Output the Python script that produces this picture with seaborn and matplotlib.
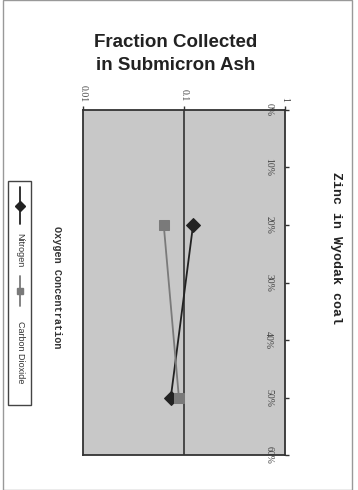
import matplotlib
matplotlib.use("Agg")
import matplotlib.pyplot as plt
from matplotlib.lines import Line2D
from matplotlib.patches import Rectangle
import seaborn as sns
import pandas as pd

sns.set_theme(style="white")
plt.rcParams['font.family'] = ['Liberation Sans', 'DejaVu Sans']

# Data
oxygen = [20, 50]
nitrogen = [0.123, 0.074]
carbon_dioxide = [0.063, 0.089]
series_names = ["Nitrogen", "Carbon Dioxide"]
oxygen_ticks = [0, 10, 20, 30, 40, 50, 60]
oxygen_labels = ["0%", "10%", "20%", "30%", "40%", "50%", "60%"]
frac_ticks = [0.01, 0.1, 1]
frac_labels = ["0.01", "0.1", "1"]

df = pd.DataFrame({
    "oxygen": oxygen * 2,
    "fraction": nitrogen + carbon_dioxide,
    "series": [series_names[0]] * 2 + [series_names[1]] * 2,
})

W, H = 358, 490
fig = plt.figure(figsize=(W / 100, H / 100), dpi=100)
fig.patch.set_facecolor("white")
ax = fig.add_axes([83 / W, (H - 455) / H, 202 / W, 345 / H])
ax.set_facecolor("#c8c8c8")

colors = {"Nitrogen": "#222222", "Carbon Dioxide": "#7a7a7a"}
markers = {"Nitrogen": "D", "Carbon Dioxide": "s"}
for name in series_names:
    sub = df[df["series"] == name]
    sns.lineplot(data=sub, x="fraction", y="oxygen", sort=False, estimator=None,
                 color=colors[name], marker=markers[name], markersize=7,
                 markeredgecolor=colors[name], linewidth=1.3, ax=ax, legend=False)

ax.set_xscale("log")
ax.set_xlim(0.01, 1)
ax.set_ylim(60, 0)
ax.axvline(0.1, color="#333333", linewidth=1.2, zorder=1)

ax.set_xticks(frac_ticks)
ax.set_xticklabels(frac_labels, rotation=270, fontsize=7, family="Liberation Serif", color="#444444")
ax.xaxis.set_minor_locator(matplotlib.ticker.NullLocator())
ax.xaxis.tick_top()
ax.set_yticks(oxygen_ticks)
ax.set_yticklabels(oxygen_labels, rotation=270, fontsize=7, family="Liberation Serif",
                   color="#444444", va="center", ha="left")
ax.yaxis.tick_right()
ax.tick_params(axis="both", length=3, width=1, color="#333333", direction="out")
ax.tick_params(axis="x", pad=3)
ax.tick_params(axis="y", pad=-18)
ax.set_xlabel("")
ax.set_ylabel("")
for s in ax.spines.values():
    s.set_color("#333333")
    s.set_linewidth(1.3)

# Title
fig.text(176 / W, 1 - 54 / H, "Fraction Collected\nin Submicron Ash", ha="center", va="center",
         fontsize=13.5, fontweight="bold", color="#222222", linespacing=1.45)

# Rotated chart title and axis label
fig.text(336 / W, 1 - 248 / H, "Zinc in Wyodak coal", rotation=270, ha="center", va="center",
         fontsize=9.5, fontweight="bold", family="Liberation Mono", color="#222222")
fig.text(57 / W, 1 - 287 / H, "Oxygen Concentration", rotation=270, ha="center", va="center",
         fontsize=7.3, fontweight="bold", family="Liberation Mono", color="#333333")

# Rotated legend
fig.patches.append(Rectangle((8 / W, 1 - 405 / H), 23 / W, 224 / H, transform=fig.transFigure,
                             fill=False, edgecolor="#444444", linewidth=1))
cx = 20 / W
fig.add_artist(Line2D([cx, cx], [1 - 187 / H, 1 - 224 / H], transform=fig.transFigure,
                      color=colors["Nitrogen"], linewidth=1.3))
fig.add_artist(Line2D([cx], [1 - 206 / H], transform=fig.transFigure, marker="D",
                      markersize=5, color=colors["Nitrogen"]))
fig.text(cx, 1 - 250 / H, series_names[0], rotation=270, ha="center", va="center",
         fontsize=6.5, family="Liberation Sans", color="#333333")
fig.add_artist(Line2D([cx, cx], [1 - 276 / H, 1 - 306 / H], transform=fig.transFigure,
                      color=colors["Carbon Dioxide"], linewidth=1.3))
fig.add_artist(Line2D([cx], [1 - 291 / H], transform=fig.transFigure, marker="s",
                      markersize=5, color=colors["Carbon Dioxide"]))
fig.text(cx, 1 - 352 / H, series_names[1], rotation=270, ha="center", va="center",
         fontsize=6.5, family="Liberation Sans", color="#333333")

# Page border
fig.patches.append(Rectangle((3 / W, 0), 349 / W, 1, transform=fig.transFigure,
                             fill=False, edgecolor="#999999", linewidth=1))

fig.savefig("out.png", dpi=100)
